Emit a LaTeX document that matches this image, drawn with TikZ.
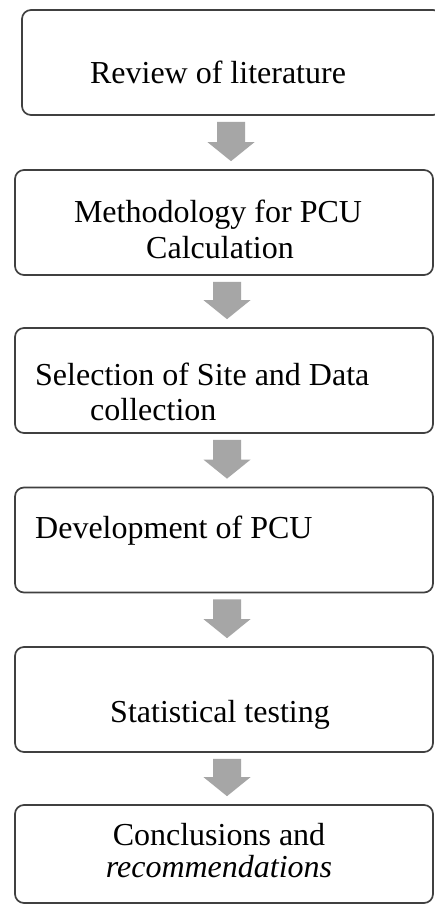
\documentclass[tikz,border=0pt]{standalone}
\usepackage{fontspec}
\setmainfont{Liberation Serif}
\usetikzlibrary{calc}

% grey block arrow from the bottom of one stage box to the top of the next
% #1 = upper box, #2 = lower box, #3 = horizontal offset of the arrow axis
\newcommand\stagearrow[3]{%
  \fill[arrowgrey] let \p1=(#1.south), \p2=(#2.north) in
    (\x1+#3-14pt,\y1-6pt) -- (\x1+#3+14pt,\y1-6pt) -- (\x1+#3+14pt,\y2+27pt)
    -- (\x1+#3+23.5pt,\y2+27pt) -- (\x1+#3,\y2+8pt) -- (\x1+#3-23.5pt,\y2+27pt)
    -- (\x1+#3-14pt,\y2+27pt) -- cycle;}

\begin{document}
\begin{tikzpicture}[x=1pt,y=1pt,
  stagebox/.style={draw=black!75, line width=1.7pt, rounded corners=9pt,
    minimum width=418pt, minimum height=105pt, inner sep=0pt},
  stagetext/.style={font=\fontsize{32}{36}\selectfont, inner sep=0pt},
  arrowgrey/.style={fill=black!35}]

\useasboundingbox (0,0) rectangle (435,-908);
\fill[white] (0,0) rectangle (435,-908);

% stage boxes
\node[stagebox, minimum width=420pt] (b1) at (232,-62.5) {};
\node[stagebox] (b2) at (224,-222.5) {};
\node[stagebox] (b3) at (224,-380.5) {};
\node[stagebox] (b4) at (224,-540) {};
\node[stagebox] (b5) at (224,-699.5) {};
\node[stagebox, minimum height=98pt] (b6) at (224,-854) {};

% stage labels
\node[stagetext, anchor=base] (t1) at (218,-83) {Review of literature};
\node[stagetext, anchor=base] (t2a) at (218,-222) {Methodology for PCU};
\node[stagetext, anchor=base] (t2b) at (220,-258) {Calculation};
\node[stagetext, anchor=base west] (t3a) at (35,-385) {Selection of Site and Data};
\node[stagetext, anchor=base west] (t3b) at (90,-420) {collection};
\node[stagetext, anchor=base west] (t4) at (35,-538) {Development of PCU};
\node[stagetext, anchor=base] (t5) at (220,-722) {Statistical testing};
\node[stagetext, anchor=base] (t6a) at (219,-845) {Conclusions and};
\node[stagetext, anchor=base] (t6b) at (219,-877) {\itshape recommendations};

% connectors
\stagearrow{b1}{b2}{-1pt}
\stagearrow{b2}{b3}{3pt}
\stagearrow{b3}{b4}{3pt}
\stagearrow{b4}{b5}{3pt}
\stagearrow{b5}{b6}{3pt}
\end{tikzpicture}
\end{document}
